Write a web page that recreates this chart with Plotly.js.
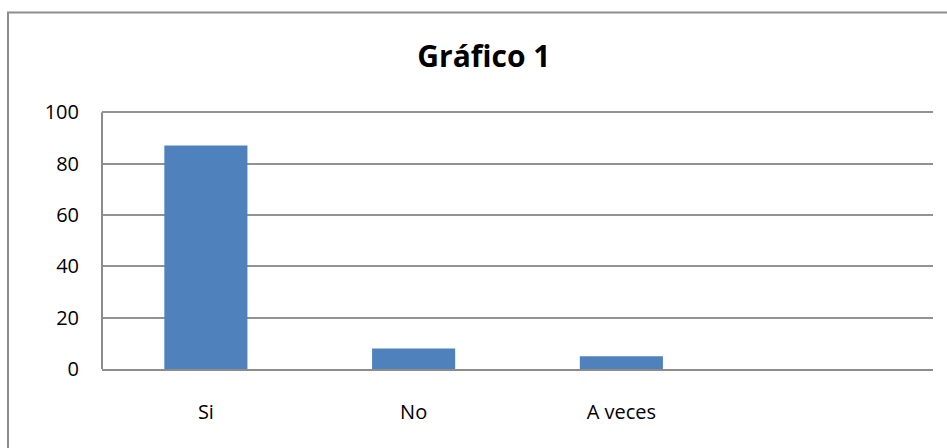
<!DOCTYPE html>
<html>
<head>
<meta charset="utf-8">
<script src="https://cdn.plot.ly/plotly-3.0.1.min.js"></script>
<style>html,body{margin:0;padding:0;background:#fff;}#chart{width:947px;height:448px;}</style>
</head>
<body>
<div id="chart"></div>
<script>
const categories = ['Si', 'No', 'A veces'];
const values = [87, 8, 5];
const yTicks = [0, 20, 40, 60, 80, 100];
const chartTitle = 'Gráfico 1';

const font = '"Open Sans", "Noto Sans", sans-serif';
const W = 947, H = 448;
const yMax = 102;
const m = {l: 102, r: 14, t: 369 - Math.round(257 * yMax / 100), b: 79};
const pw = W - m.l - m.r, ph = H - m.t - m.b;
const px = v => (v - m.l) / pw;
const py = v => (H - m.b - v) / ph;

Plotly.newPlot('chart', [{
  type: 'bar',
  x: categories,
  y: values,
  marker: {color: '#4F81BD', line: {width: 0}},
  hoverinfo: 'x+y'
}], {
  width: W, height: H,
  margin: m,
  paper_bgcolor: '#ffffff',
  plot_bgcolor: '#ffffff',
  bargap: 0.6,
  showlegend: false,
  font: {family: font, size: 20, color: '#000'},
  title: {
    text: '<b>' + chartTitle + '</b>',
    font: {family: font, size: 30, color: '#000'},
    xref: 'container', x: 0.511, xanchor: 'center',
    yref: 'container', y: 1 - 56 / H, yanchor: 'middle'
  },
  xaxis: {
    type: 'category',
    range: [-0.5, 3.5],
    showgrid: false,
    showline: true, linecolor: '#8c8c8c', linewidth: 2,
    ticks: '',
    ticklabelstandoff: 24,
    tickfont: {family: font, size: 20, color: '#000'},
    fixedrange: true
  },
  yaxis: {
    range: [0, yMax],
    tickvals: yTicks,
    ticktext: yTicks.map(String),
    showgrid: true, gridcolor: '#929292', gridwidth: 2,
    showline: false,
    zeroline: false,
    ticks: '',
    ticklabelstandoff: 22,
    tickfont: {family: font, size: 20, color: '#000'},
    fixedrange: true
  },
  shapes: [
    {type: 'line', xref: 'paper', yref: 'y', x0: 0, x1: 0, y0: 0, y1: yTicks[yTicks.length - 1], line: {color: '#8c8c8c', width: 2}},
    {type: 'line', xref: 'paper', yref: 'paper', x0: px(8), x1: px(8), y0: py(12), y1: py(H + 5), line: {color: '#8c8c8c', width: 2}},
    {type: 'line', xref: 'paper', yref: 'paper', x0: px(7), x1: px(W + 5), y0: py(12.5), y1: py(12.5), line: {color: '#8c8c8c', width: 2}}
  ]
}, {displayModeBar: false, staticPlot: true});
</script>
</body>
</html>
